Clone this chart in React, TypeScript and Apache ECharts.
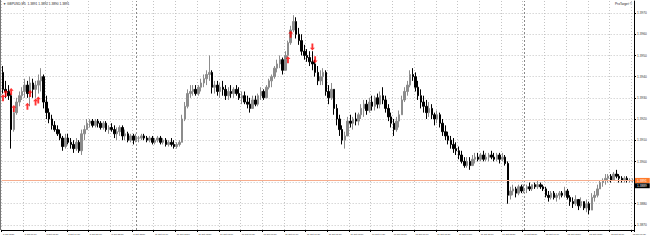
import React, { useEffect, useRef } from "react";
import * as echarts from "echarts";

const chartTitle = "GBPUSD,M5  1.3891 1.3892 1.3890 1.3891";
const brandText = "ProTarget ©";

const xLabels = [
  "8 Oct 2021", "8 Oct 17:10", "8 Oct 18:30", "8 Oct 19:50", "8 Oct 21:10", "8 Oct 22:30", "8 Oct 23:50",
  "11 Oct 01:10", "11 Oct 02:30", "11 Oct 03:50", "11 Oct 05:10", "11 Oct 06:30", "11 Oct 07:50",
  "11 Oct 09:10", "11 Oct 10:30", "11 Oct 11:50", "11 Oct 13:10", "11 Oct 14:30", "11 Oct 15:50",
  "11 Oct 17:10", "11 Oct 18:30", "11 Oct 19:50", "11 Oct 21:10", "11 Oct 22:30", "11 Oct 23:50",
  "12 Oct 01:10", "12 Oct 02:30", "12 Oct 03:50", "12 Oct 05:10", "12 Oct 06:30",
];
const LABEL_STEP = 8;

const opens = [
  1.3942,1.3934,1.3933,1.3931,1.3915,1.3923,1.3928,1.3931,1.3933,1.3936,
  1.3932,1.3937,1.3934,1.3936,1.3938,1.3940,1.3928,1.3923,1.3920,1.3917,
  1.3915,1.3913,1.3911,1.3907,1.3911,1.3909,1.3908,1.3906,1.3909,1.3905,
  1.3913,1.3915,1.3918,1.3919,1.3917,1.3919,1.3918,1.3916,1.3918,1.3915,
  1.3916,1.3915,1.3913,1.3914,1.3916,1.3912,1.3913,1.3910,1.3912,1.3910,
  1.3911,1.3911,1.3912,1.3911,1.3910,1.3911,1.3909,1.3910,1.3911,1.3909,
  1.3910,1.3908,1.3909,1.3908,1.3907,1.3908,1.3909,1.3920,1.3926,1.3932,
  1.3933,1.3934,1.3932,1.3935,1.3937,1.3939,1.3941,1.3942,1.3935,1.3936,
  1.3933,1.3935,1.3934,1.3931,1.3933,1.3932,1.3934,1.3932,1.3930,1.3931,
  1.3928,1.3927,1.3925,1.3929,1.3927,1.3931,1.3933,1.3930,1.3935,1.3938,
  1.3940,1.3944,1.3946,1.3948,1.3943,1.3950,1.3956,1.3962,1.3966,1.3960,
  1.3957,1.3952,1.3950,1.3949,1.3947,1.3946,1.3942,1.3938,1.3940,1.3942,
  1.3933,1.3930,1.3934,1.3925,1.3920,1.3915,1.3910,1.3912,1.3919,1.3918,
  1.3920,1.3919,1.3922,1.3925,1.3927,1.3924,1.3928,1.3926,1.3930,1.3927,
  1.3931,1.3929,1.3925,1.3921,1.3918,1.3915,1.3919,1.3922,1.3929,1.3933,
  1.3936,1.3941,1.3940,1.3935,1.3931,1.3928,1.3926,1.3923,1.3925,1.3922,
  1.3920,1.3922,1.3918,1.3914,1.3912,1.3910,1.3908,1.3906,1.3905,1.3903,
  1.3900,1.3898,1.3900,1.3898,1.3901,1.3902,1.3901,1.3903,1.3901,1.3902,
  1.3903,1.3902,1.3901,1.3903,1.3901,1.3902,1.3899,1.3884,1.3886,1.3887,
  1.3885,1.3888,1.3886,1.3887,1.3888,1.3887,1.3889,1.3888,1.3889,1.3888,
  1.3887,1.3884,1.3883,1.3885,1.3883,1.3884,1.3885,1.3884,1.3886,1.3883,
  1.3881,1.3880,1.3882,1.3879,1.3881,1.3878,1.3880,1.3877,1.3883,1.3884,
  1.3887,1.3890,1.3891,1.3892,1.3893,1.3891,1.3894,1.3893,1.3892,1.3891,
  1.3892,1.3891,1.3891,
];
const highs = [
  1.3945,1.3938,1.3936,1.3932,1.3925,1.3930,1.3933,1.3935,1.3939,1.3938,
  1.3940,1.3939,1.3938,1.3941,1.3944,1.3941,1.3931,1.3925,1.3922,1.3919,
  1.3917,1.3915,1.3912,1.3913,1.3913,1.3911,1.3910,1.3911,1.3910,1.3915,
  1.3917,1.3920,1.3920,1.3920,1.3920,1.3920,1.3919,1.3919,1.3919,1.3917,
  1.3918,1.3917,1.3916,1.3917,1.3917,1.3915,1.3914,1.3913,1.3913,1.3913,
  1.3912,1.3913,1.3913,1.3912,1.3912,1.3912,1.3911,1.3912,1.3912,1.3911,
  1.3911,1.3910,1.3911,1.3910,1.3909,1.3910,1.3922,1.3928,1.3934,1.3936,
  1.3936,1.3936,1.3936,1.3939,1.3941,1.3943,1.3950,1.3943,1.3938,1.3938,
  1.3937,1.3938,1.3936,1.3935,1.3936,1.3935,1.3936,1.3935,1.3933,1.3933,
  1.3931,1.3930,1.3931,1.3931,1.3932,1.3935,1.3934,1.3936,1.3939,1.3941,
  1.3945,1.3948,1.3950,1.3949,1.3952,1.3957,1.3964,1.3969,1.3968,1.3963,
  1.3960,1.3955,1.3953,1.3952,1.3952,1.3948,1.3945,1.3943,1.3944,1.3943,
  1.3936,1.3937,1.3934,1.3927,1.3922,1.3917,1.3914,1.3921,1.3922,1.3921,
  1.3923,1.3923,1.3927,1.3929,1.3929,1.3930,1.3931,1.3931,1.3932,1.3933,
  1.3935,1.3931,1.3927,1.3923,1.3920,1.3921,1.3924,1.3931,1.3935,1.3938,
  1.3943,1.3944,1.3942,1.3938,1.3934,1.3931,1.3929,1.3928,1.3927,1.3923,
  1.3924,1.3923,1.3920,1.3917,1.3914,1.3912,1.3911,1.3909,1.3907,1.3905,
  1.3902,1.3902,1.3902,1.3903,1.3904,1.3904,1.3904,1.3905,1.3904,1.3904,
  1.3905,1.3904,1.3904,1.3904,1.3904,1.3903,1.3900,1.3888,1.3889,1.3888,
  1.3889,1.3889,1.3889,1.3889,1.3890,1.3889,1.3890,1.3891,1.3890,1.3889,
  1.3888,1.3886,1.3886,1.3886,1.3885,1.3886,1.3886,1.3888,1.3887,1.3884,
  1.3883,1.3884,1.3882,1.3883,1.3881,1.3882,1.3881,1.3885,1.3886,1.3889,
  1.3891,1.3892,1.3894,1.3894,1.3894,1.3895,1.3896,1.3894,1.3893,1.3893,
  1.3893,1.3892,1.3892,
];
const lows = [
  1.3932,1.3930,1.3929,1.3906,1.3914,1.3922,1.3926,1.3929,1.3930,1.3930,
  1.3926,1.3930,1.3930,1.3932,1.3933,1.3925,1.3920,1.3918,1.3915,1.3914,
  1.3912,1.3910,1.3905,1.3906,1.3908,1.3906,1.3904,1.3905,1.3904,1.3903,
  1.3910,1.3915,1.3916,1.3916,1.3916,1.3916,1.3915,1.3915,1.3914,1.3913,
  1.3914,1.3911,1.3910,1.3912,1.3910,1.3910,1.3909,1.3909,1.3908,1.3909,
  1.3909,1.3910,1.3910,1.3909,1.3909,1.3908,1.3908,1.3909,1.3908,1.3908,
  1.3907,1.3907,1.3907,1.3906,1.3906,1.3907,1.3909,1.3919,1.3925,1.3930,
  1.3931,1.3931,1.3931,1.3933,1.3935,1.3936,1.3938,1.3932,1.3932,1.3931,
  1.3930,1.3931,1.3929,1.3929,1.3930,1.3930,1.3931,1.3929,1.3927,1.3927,
  1.3925,1.3923,1.3925,1.3926,1.3926,1.3929,1.3929,1.3930,1.3934,1.3935,
  1.3939,1.3942,1.3944,1.3941,1.3943,1.3949,1.3955,1.3961,1.3958,1.3955,
  1.3950,1.3948,1.3947,1.3945,1.3943,1.3940,1.3936,1.3936,1.3936,1.3931,
  1.3927,1.3929,1.3922,1.3917,1.3912,1.3908,1.3906,1.3912,1.3916,1.3915,
  1.3917,1.3917,1.3920,1.3921,1.3922,1.3923,1.3924,1.3924,1.3925,1.3925,
  1.3927,1.3923,1.3919,1.3916,1.3912,1.3914,1.3916,1.3922,1.3928,1.3931,
  1.3935,1.3938,1.3933,1.3929,1.3925,1.3923,1.3920,1.3921,1.3920,1.3917,
  1.3918,1.3916,1.3912,1.3910,1.3908,1.3906,1.3904,1.3903,1.3901,1.3899,
  1.3897,1.3897,1.3896,1.3898,1.3899,1.3900,1.3900,1.3900,1.3900,1.3900,
  1.3901,1.3900,1.3900,1.3899,1.3900,1.3898,1.3880,1.3882,1.3884,1.3883,
  1.3884,1.3885,1.3885,1.3885,1.3886,1.3886,1.3887,1.3887,1.3887,1.3886,
  1.3883,1.3881,1.3882,1.3882,1.3881,1.3882,1.3883,1.3883,1.3882,1.3879,
  1.3878,1.3879,1.3877,1.3878,1.3877,1.3876,1.3875,1.3877,1.3881,1.3883,
  1.3887,1.3888,1.3889,1.3890,1.3890,1.3891,1.3892,1.3890,1.3890,1.3890,
  1.3890,1.3890,1.3890,
];
const closes = [
  1.3934,1.3933,1.3931,1.3915,1.3923,1.3928,1.3931,1.3933,1.3936,1.3932,
  1.3937,1.3934,1.3936,1.3938,1.3940,1.3928,1.3923,1.3920,1.3917,1.3915,
  1.3913,1.3911,1.3907,1.3911,1.3909,1.3908,1.3906,1.3909,1.3905,1.3913,
  1.3915,1.3918,1.3919,1.3917,1.3919,1.3918,1.3916,1.3918,1.3915,1.3916,
  1.3915,1.3913,1.3914,1.3916,1.3912,1.3913,1.3910,1.3912,1.3910,1.3911,
  1.3911,1.3912,1.3911,1.3910,1.3911,1.3909,1.3910,1.3911,1.3909,1.3910,
  1.3908,1.3909,1.3908,1.3907,1.3908,1.3909,1.3920,1.3926,1.3932,1.3933,
  1.3934,1.3932,1.3935,1.3937,1.3939,1.3941,1.3942,1.3935,1.3936,1.3933,
  1.3935,1.3934,1.3931,1.3933,1.3932,1.3934,1.3932,1.3930,1.3931,1.3928,
  1.3927,1.3925,1.3929,1.3927,1.3931,1.3933,1.3930,1.3935,1.3938,1.3940,
  1.3944,1.3946,1.3948,1.3943,1.3950,1.3956,1.3962,1.3966,1.3960,1.3957,
  1.3952,1.3950,1.3949,1.3947,1.3946,1.3942,1.3938,1.3940,1.3942,1.3933,
  1.3930,1.3934,1.3925,1.3920,1.3915,1.3910,1.3912,1.3919,1.3918,1.3920,
  1.3919,1.3922,1.3925,1.3927,1.3924,1.3928,1.3926,1.3930,1.3927,1.3931,
  1.3929,1.3925,1.3921,1.3918,1.3915,1.3919,1.3922,1.3929,1.3933,1.3936,
  1.3941,1.3940,1.3935,1.3931,1.3928,1.3926,1.3923,1.3925,1.3922,1.3920,
  1.3922,1.3918,1.3914,1.3912,1.3910,1.3908,1.3906,1.3905,1.3903,1.3900,
  1.3898,1.3900,1.3898,1.3901,1.3902,1.3901,1.3903,1.3901,1.3902,1.3903,
  1.3902,1.3901,1.3903,1.3901,1.3902,1.3899,1.3884,1.3886,1.3887,1.3885,
  1.3888,1.3886,1.3887,1.3888,1.3887,1.3889,1.3888,1.3889,1.3888,1.3887,
  1.3884,1.3883,1.3885,1.3883,1.3884,1.3885,1.3884,1.3886,1.3883,1.3881,
  1.3880,1.3882,1.3879,1.3881,1.3878,1.3880,1.3877,1.3883,1.3884,1.3887,
  1.3890,1.3891,1.3892,1.3893,1.3891,1.3894,1.3893,1.3892,1.3891,1.3892,
  1.3891,1.3891,1.3891,
];

const yTicks = [1.387, 1.388, 1.389, 1.39, 1.391, 1.392, 1.393, 1.394, 1.395, 1.396, 1.397];
const yLabelTicks = [1.387, 1.388, 1.39, 1.391, 1.392, 1.393, 1.394, 1.395, 1.396, 1.397];
const Y_MIN = 1.38676;
const Y_MAX = 1.39757;

const currentPrice = 1.3891;
const secondPrice = 1.38885;
const secondPriceText = "1.3889";

const daySeparators = [49, 192];

const upArrows = [
  [0, 1.393], [1, 1.3932], [3, 1.3933], [4, 1.3925], [9, 1.3926], [10, 1.3932],
  [12, 1.3928], [13, 1.3929], [105, 1.3948], [106, 1.396],
];
const downArrows = [[114, 1.3954], [115, 1.3948]];

const ARROW = "path://M4,0 L8,4 L5.5,4 L5.5,10 L2.5,10 L2.5,4 L0,4 Z";

export default function App() {
  const ref = useRef<HTMLDivElement>(null);
  useEffect(() => {
    document.body.style.margin = "0";
    const chart = echarts.init(ref.current!, null, { renderer: "svg" });
    const cats = opens.map((_, i) => String(i));
    const candles = opens.map((o, i) => [o, closes[i], lows[i], highs[i]]);
    const sepLines = daySeparators.map((d) => ({
      xAxis: d,
      lineStyle: { color: "#8a8a8a", type: [2, 2], width: 1 },
      label: { show: false },
    }));
    chart.setOption({
      animation: false,
      textStyle: { fontFamily: "Liberation Sans" },
      grid: { left: 1, right: 16, top: 1, bottom: 13 },
      xAxis: {
        type: "category",
        data: cats,
        boundaryGap: true,
        axisLine: { show: true, lineStyle: { color: "#000", width: 1 } },
        axisTick: { show: true, interval: LABEL_STEP - 1, length: 2, lineStyle: { color: "#000" } },
        axisLabel: {
          interval: LABEL_STEP - 1,
          fontSize: 2.3,
          color: "#333",
          align: "left",
          margin: 3,
          formatter: (_v: string, i: number) => xLabels[Math.round(i / LABEL_STEP)] ?? "",
        },
        splitLine: { show: true, interval: LABEL_STEP - 1, lineStyle: { type: [1, 2], color: "#c4c4c4" } },
      },
      yAxis: {
        type: "value",
        position: "right",
        min: Y_MIN,
        max: Y_MAX,
        scale: true,
        axisLine: { show: true, lineStyle: { color: "#000", width: 1 } },
        axisTick: { show: true, length: 2, customValues: yTicks, lineStyle: { color: "#000" } },
        axisLabel: {
          customValues: yLabelTicks,
          fontSize: 3.2,
          color: "#333",
          margin: 3,
          formatter: (v: number) => v.toFixed(4),
        },
        splitLine: { show: true, lineStyle: { type: [1, 2], color: "#c4c4c4" } },
      },
      series: [
        {
          type: "candlestick",
          data: candles,
          barWidth: 2,
          itemStyle: {
            color: "#8c8c8c",
            color0: "#000000",
            borderColor: "#8c8c8c",
            borderColor0: "#000000",
            borderWidth: 1,
          },
          markLine: {
            silent: true,
            precision: 5,
            symbol: ["none", "none"],
            data: [
              ...sepLines,
              {
                yAxis: currentPrice,
                lineStyle: { color: "#f6ad8e", type: "solid", width: 1 },
                label: {
                  show: true,
                  position: "end",
                  distance: 1,
                  formatter: currentPrice.toFixed(4),
                  backgroundColor: "#ff7a2b",
                  color: "#fff",
                  fontSize: 3.2,
                  padding: [1, 3, 1, 2],
                },
              },
              {
                yAxis: secondPrice,
                lineStyle: { color: "rgba(0,0,0,0)", width: 0 },
                label: {
                  show: true,
                  position: "end",
                  distance: 1,
                  formatter: secondPriceText,
                  backgroundColor: "#000",
                  color: "#fff",
                  fontSize: 3.2,
                  padding: [1, 3, 1, 2],
                },
              },
            ],
          },
        },
        {
          type: "scatter",
          data: upArrows,
          symbol: ARROW,
          symbolSize: [5, 7],
          itemStyle: { color: "#ff0000" },
          z: 5,
        },
        {
          type: "scatter",
          data: downArrows,
          symbol: ARROW,
          symbolSize: [5, 7],
          symbolRotate: 180,
          itemStyle: { color: "#ff0000" },
          z: 5,
        },
      ],
      graphic: [
        { type: "line", shape: { x1: 0.5, y1: 0, x2: 0.5, y2: 230 }, style: { stroke: "#777", lineWidth: 1 } },
        { type: "text", left: 3, top: 2, style: { text: "▼ " + chartTitle, fontSize: 3.2, fill: "#222", fontFamily: "Liberation Sans" } },
        { type: "text", right: 18, top: 2, style: { text: brandText, fontSize: 3.2, fill: "#222", fontFamily: "Liberation Sans" } },
      ],
    });
    return () => chart.dispose();
  }, []);
  return <div ref={ref} style={{ width: 650, height: 243 }} />;
}
